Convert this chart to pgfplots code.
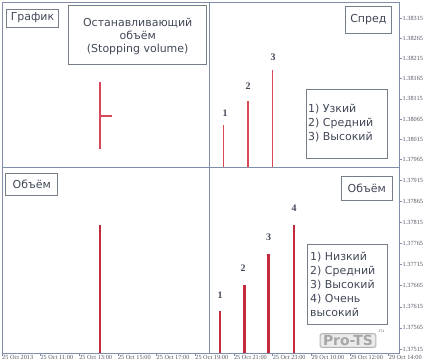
\documentclass[border=0pt]{standalone}
\usepackage{pgfplots}
\pgfplotsset{compat=1.18}
\usepackage{fontspec}
\setmainfont{DejaVu Sans}
\newfontfamily\serifnum{Liberation Serif}
\definecolor{frame}{HTML}{7F8FAB}
\definecolor{boxc}{HTML}{767E8A}
\definecolor{txt}{HTML}{424858}
\definecolor{thinred}{HTML}{D8475A}
\definecolor{volred}{HTML}{C62A3E}
\definecolor{ticktxt}{HTML}{505560}
\begin{document}
\begin{tikzpicture}
\begin{axis}[
  scale only axis, width=397bp, height=351bp,
  xmin=2, xmax=399, ymin=0, ymax=351,
  clip=false,
  axis line style={frame, line width=0.8bp},
  tick align=outside, major tick length=3bp,
  tick style={frame, line width=0.6bp},
  xtick pos=bottom, ytick pos=right,
  xtick={2,40.4,79.1,117.8,156.5,195.2,233.9,272.6,311.3,350,388.7},
  xticklabels={25 Oct 2013,25 Oct 11:00,25 Oct 13:00,25 Oct 15:00,25 Oct 17:00,25 Oct 19:00,25 Oct 21:00,25 Oct 23:00,29 Oct 10:00,29 Oct 12:00,29 Oct 14:00},
  xticklabel style={anchor=north west, font=\serifnum\fontsize{6.3}{7}\selectfont, text=ticktxt, inner sep=1bp, xshift=-1bp, yshift=1.5bp},
  yticklabel pos=right,
  ytick={334.7,314.6,294.4,274.3,254.1,234.0,213.8,193.7,173,151.9,130.7,109.6,88.5,67.4,46.2,25.1,4},
  yticklabels={1.38315,1.38265,1.38215,1.38165,1.38115,1.38065,1.38015,1.37965,1.37915,1.37865,1.37815,1.37765,1.37715,1.37665,1.37615,1.37565,1.37515},
  yticklabel style={anchor=west, font=\serifnum\fontsize{6.3}{7}\selectfont, text=ticktxt, inner sep=1bp, xshift=-0.5bp},
]
% dividers
\draw[frame, line width=0.8bp] (axis cs:2,186) -- (axis cs:399,186);
\draw[frame, line width=0.8bp] (axis cs:209,0) -- (axis cs:209,351);

% stopping volume candle
\addplot[thinred, line width=1.1bp] coordinates {(100,204) (100,271)};
\addplot[thinred, line width=1.1bp] coordinates {(100,237) (112,237)};

% spread lines
\addplot[thinred, line width=1.1bp] coordinates {(223.7,186) (223.7,227.7)};
\addplot[thinred, line width=1.1bp] coordinates {(248,186) (248,252)};
\addplot[thinred, line width=1.1bp] coordinates {(272.3,186) (272.3,283)};

% volume bars
\addplot[volred, line width=2.6bp] coordinates {(100,0) (100,128)};
\addplot[volred, line width=2.4bp] coordinates {(220,0) (220,42.3)};
\addplot[volred, line width=2.4bp] coordinates {(244.3,0) (244.3,68)};
\addplot[volred, line width=2.4bp] coordinates {(268.3,0) (268.3,99.3)};
\addplot[volred, line width=2.4bp] coordinates {(294,0) (294,128.3)};

% numbers
\tikzset{num/.style={text=txt, font=\serifnum\bfseries\fontsize{10}{11}\selectfont, inner sep=0pt}}
\node[num] at (axis cs:225,240) {1};
\node[num] at (axis cs:248,267) {2};
\node[num] at (axis cs:273,296) {3};
\node[num] at (axis cs:220,58) {1};
\node[num] at (axis cs:243,84.3) {2};
\node[num] at (axis cs:268.7,115.3) {3};
\node[num] at (axis cs:294,144.3) {4};

% boxes
\tikzset{bx/.style={draw=boxc, fill=white, line width=0.6bp}, bt/.style={text=txt, font=\fontsize{11}{13.5}\selectfont, inner sep=0pt}}
\draw[bx] (axis cs:6.3,343.7) rectangle (axis cs:58.7,326);
\node[bt] at (axis cs:32.5,335) {График};
\draw[bx] (axis cs:68.7,347.7) rectangle (axis cs:206.7,288.3);
\node[bt, align=center] at (axis cs:137.7,316.5) {Останавливающий\\объём\\(Stopping volume)};
\draw[bx] (axis cs:345.3,347) rectangle (axis cs:391.3,319.7);
\node[bt] at (axis cs:368.3,333.5) {Спред};
\draw[bx] (axis cs:306,264) rectangle (axis cs:387.7,194.3);
\node[bt, align=left, anchor=west, font=\fontsize{11}{14}\selectfont] at (axis cs:308,229.5) {1) Узкий\\2) Средний\\3) Высокий};
\draw[bx] (axis cs:5.7,180) rectangle (axis cs:57.7,157.7);
\node[bt] at (axis cs:31.7,169) {Объём};
\draw[bx] (axis cs:341.7,177) rectangle (axis cs:392,152.3);
\node[bt] at (axis cs:366.8,164.6) {Объём};
\draw[bx] (axis cs:307.3,108.7) rectangle (axis cs:387.7,28.7);
\node[bt, align=left, anchor=west, font=\fontsize{11}{14}\selectfont] at (axis cs:310,68.7) {1) Низкий\\2) Средний\\3) Высокий\\4) Очень\\высокий};

% watermark
\node[draw=black!30, fill=black!8, rounded corners=2bp, line width=1bp, text=white, font=\bfseries\fontsize{14}{14}\selectfont, inner xsep=3bp, inner ysep=1.5bp] at (axis cs:348,12.5) {\textcolor{black!35}{Pro-TS}};
\node[text=black!45, font=\fontsize{5}{5}\selectfont, inner sep=0pt] at (axis cs:381,22) {.ru};

\coordinate (bbA) at (axis cs:0,353);
\coordinate (bbB) at (axis cs:424,-10);
\end{axis}
\pgfresetboundingbox
\path (bbA) rectangle (bbB);
\end{tikzpicture}
\end{document}
